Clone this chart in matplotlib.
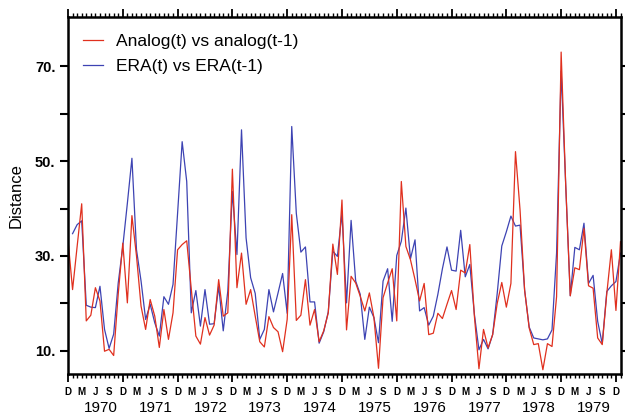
import numpy as np
import matplotlib
matplotlib.use("Agg")
import matplotlib.pyplot as plt
import matplotlib.transforms as mtrans

plt.rcParams['font.family'] = ['Liberation Sans', 'DejaVu Sans']

# monthly values, month 0 = Dec 1969
analog = [33.4, 22.9, 32.0, 41.0, 16.3, 17.5, 23.3, 20.5, 9.9, 10.3, 9.0, 22.0,
          32.7, 20.1, 38.5, 30.0, 19.4, 14.5, 20.8, 17.3, 10.7, 18.7, 12.4, 18.0,
          31.3, 32.4, 33.2, 23.0, 13.1, 11.4, 17.0, 13.3, 15.4, 25.0, 17.3, 18.0,
          48.3, 23.3, 30.6, 19.8, 22.9, 17.3, 11.9, 10.8, 17.2, 14.9, 14.0, 9.8,
          16.6, 38.7, 16.4, 17.5, 25.0, 15.4, 18.7, 11.9, 14.2, 18.0, 32.5, 26.1,
          41.8, 14.4, 25.7, 24.3, 21.5, 18.4, 22.2, 17.0, 6.3, 21.2, 24.3, 27.3,
          16.3, 45.7, 32.0, 29.2, 25.0, 20.5, 24.2, 13.4, 13.7, 17.9, 16.8, 19.8,
          22.7, 18.7, 27.0, 26.4, 32.4, 17.3, 6.2, 14.5, 10.6, 13.4, 20.0, 24.4,
          19.2, 24.2, 52.0, 39.7, 22.8, 14.8, 11.3, 11.5, 6.0, 11.5, 10.9, 21.4,
          73.0, 45.0, 21.6, 27.5, 27.1, 35.8, 23.7, 23.2, 12.7, 11.3, 22.1, 31.3,
          18.5, 33.0]
# ERA starts one month later (Jan 1970)
era = [34.7, 36.6, 37.4, 19.6, 19.2, 19.1, 23.6, 14.5, 10.5, 13.5, 24.3,
       32.0, 41.1, 50.6, 31.3, 24.7, 16.6, 19.8, 15.9, 13.1, 21.4, 19.8, 24.0,
       39.0, 54.1, 45.7, 18.0, 22.7, 15.2, 22.9, 15.6, 15.7, 23.6, 14.2, 22.6,
       43.6, 30.3, 56.6, 33.8, 25.4, 22.1, 12.4, 14.5, 22.9, 18.2, 22.2, 26.3,
       17.9, 57.3, 39.0, 30.8, 31.9, 20.3, 20.3, 11.6, 14.0, 18.2, 31.0, 29.9,
       39.0, 20.1, 37.5, 24.7, 21.9, 12.4, 19.2, 17.0, 11.7, 24.7, 27.3, 16.2,
       30.1, 33.1, 40.1, 29.4, 33.4, 18.4, 19.1, 15.4, 17.3, 21.9, 27.3, 31.9,
       27.0, 26.8, 35.4, 25.6, 28.2, 17.7, 10.2, 12.4, 10.4, 13.4, 22.1, 32.1,
       35.1, 38.4, 36.3, 36.5, 22.8, 15.0, 12.7, 12.5, 12.3, 12.5, 14.4, 30.6,
       69.0, 45.0, 21.6, 31.8, 31.3, 36.9, 24.2, 25.9, 16.2, 11.5, 22.5, 23.7,
       24.6, 30.6]

month_letters = ["D", "M", "J", "S"]
years = list(range(1970, 1980))
ytick_vals = [10, 30, 50, 70]

red = "#e0301e"
blue = "#3d43b3"

fig = plt.figure(figsize=(6.25, 4.16), dpi=100)
ax = fig.add_axes([0.1088, 0.101, 0.884, 0.857])

t_an = np.arange(len(analog))
t_era = np.arange(1, len(era) + 1)
ax.plot(t_era, era, color=blue, lw=0.9, label="ERA(t) vs ERA(t-1)")
ax.plot(t_an, analog, color=red, lw=0.9, label="Analog(t) vs analog(t-1)")

ax.set_xlim(0, 121)
ax.set_ylim(5.1, 80.3)

for s in ax.spines.values():
    s.set_linewidth(1.8)

# y ticks every 10, labels on 10/30/50/70
ax.set_yticks(range(10, 80, 10))
ax.set_yticklabels([f"{v}." if v in ytick_vals else "" for v in range(10, 80, 10)],
                   fontsize=10.5, fontweight="bold")
ax.tick_params(axis="y", which="major", direction="out", length=6, width=1.5,
               left=True, right=True, pad=3)

# x ticks: long at December, short every month
ax.set_xticks(range(0, 122, 12))
ax.set_xticklabels([])
ax.set_xticks(range(0, 122), minor=True)
ax.tick_params(axis="x", which="major", direction="out", length=6, width=1.3,
               top=True, bottom=True)
ax.tick_params(axis="x", which="minor", direction="out", length=3, width=1.0,
               top=True, bottom=True)

trans = mtrans.blended_transform_factory(ax.transData, ax.transAxes)
for i, m in enumerate(range(0, 121, 3)):
    ax.text(m, -0.05, month_letters[i % 4], transform=trans, ha="center",
            va="center", fontsize=7, fontweight="bold")
for i, yr in enumerate(years):
    ax.text(7.2 + 12 * i, -0.095, str(yr), transform=trans, ha="center",
            va="center", fontsize=11)

ax.set_ylabel("Distance", fontsize=12, labelpad=8)

h, l = ax.get_legend_handles_labels()
ax.legend(h[::-1], l[::-1], loc="upper left", frameon=False, fontsize=12.5,
          handlelength=1.2, handletextpad=0.7, labelspacing=0.55,
          bbox_to_anchor=(-0.002, 0.997))

fig.savefig("out.png", dpi=100)
